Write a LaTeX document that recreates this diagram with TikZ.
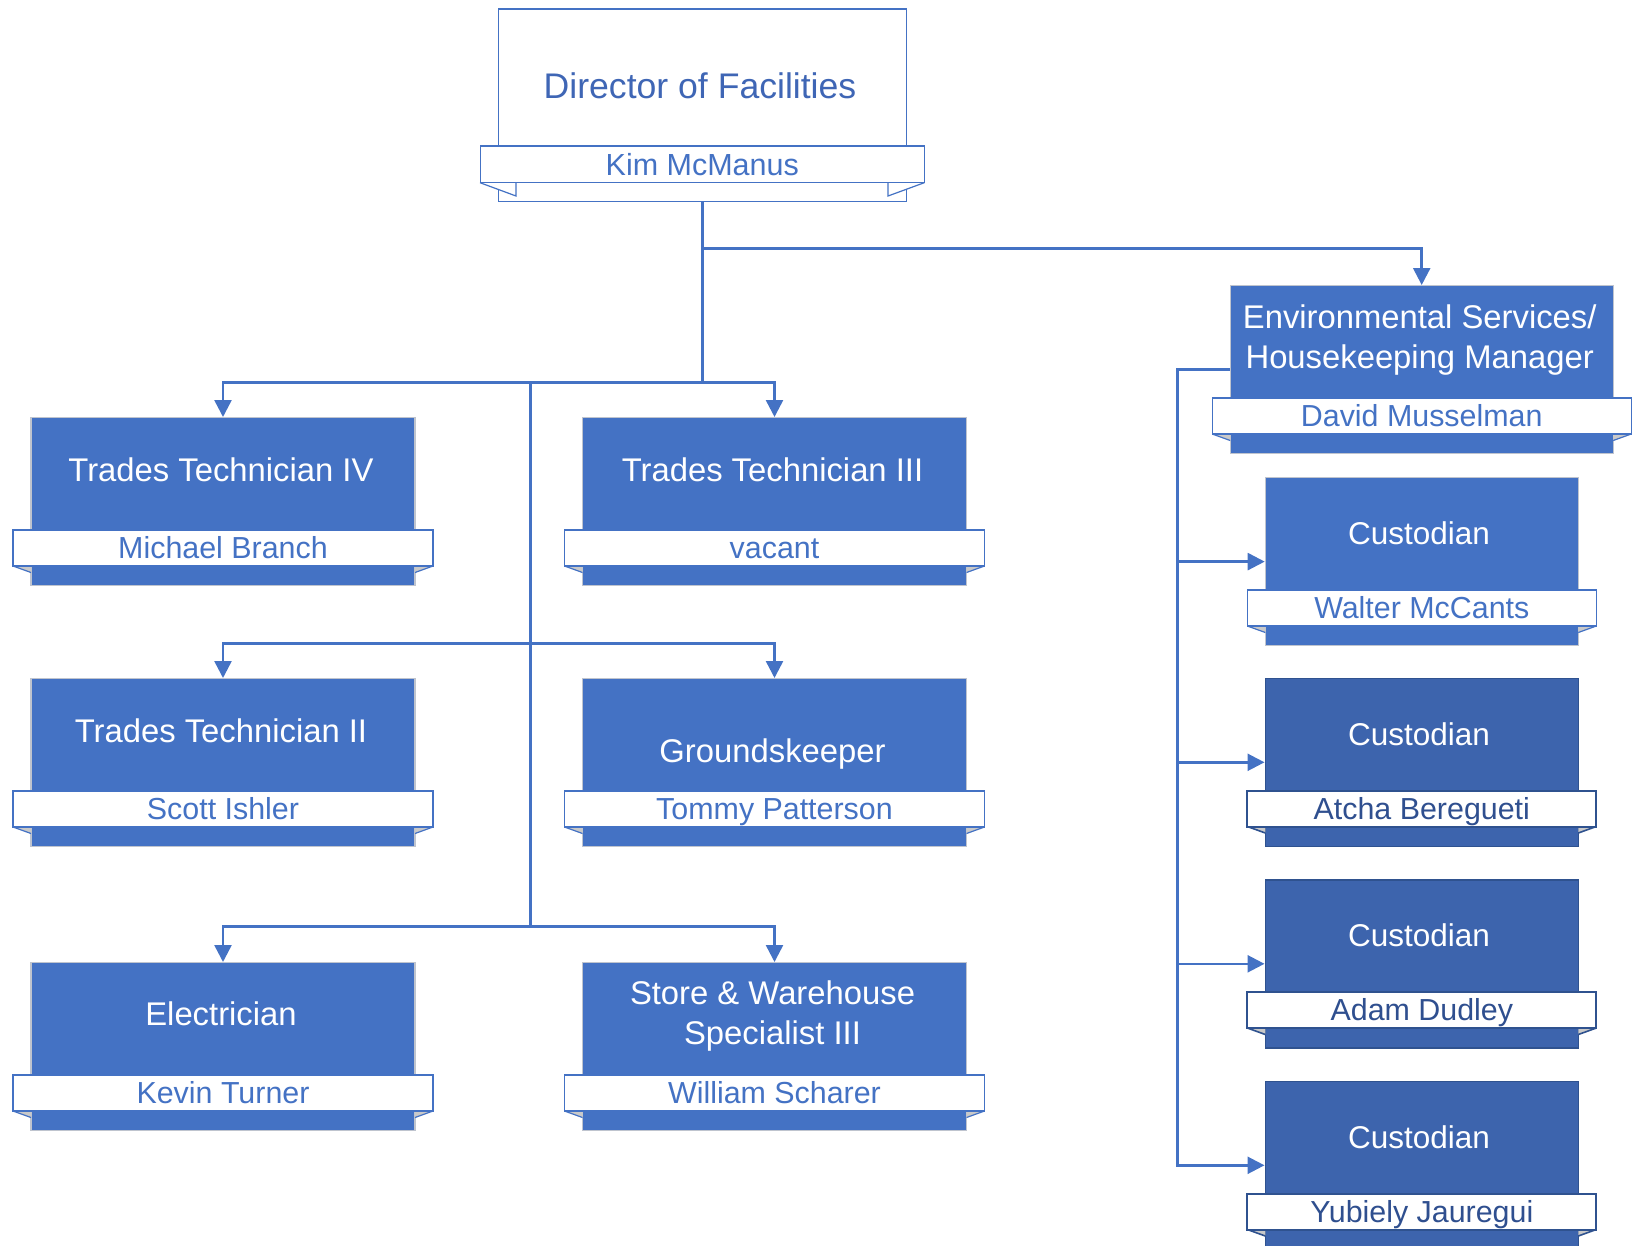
\documentclass[tikz,border=0pt]{standalone}
\usepackage{fontspec}
\setmainfont{Liberation Sans}
\usetikzlibrary{arrows.meta}
\definecolor{obl}{HTML}{4472C4}
\definecolor{dbl}{HTML}{3D64AD}
\definecolor{dln}{HTML}{2F528F}
\definecolor{dtx}{HTML}{2F4F8F}
\definecolor{dirtx}{HTML}{3F66B5}
\definecolor{tailg}{HTML}{C9C9C9}
\definecolor{lbd}{HTML}{BFC4CE}
\tikzset{
  conn/.style={draw=obl, line width=2.5pt},
  arr/.style={conn, -{Triangle[length=17pt,width=17pt]}},
  boxlt/.style={rectangle, fill=obl, draw=lbd, line width=1.2pt, inner sep=0pt},
  boxdk/.style={rectangle, fill=dbl, draw=dln, line width=1.6pt, inner sep=0pt},
  ribbase/.style={rectangle, fill=white, inner sep=0pt, text height=21.8pt, text depth=0pt,
    font=\fontsize{30.4}{33}\selectfont},
  riblt/.style={ribbase, draw=obl, line width=1.2pt, text=obl},
  ribdk/.style={ribbase, draw=dln, line width=2pt, text=dtx},
  tailfilllt/.style={fill=tailg},
  tailfilldk/.style={fill=tailg},
  taillinelt/.style={draw=obl, line width=1.2pt},
  taillinedk/.style={draw=dln, line width=1.6pt},
  ttl/.style={text=white, font=\fontsize{32.8}{40.6}\selectfont, align=center, inner sep=0pt},
  ttlone/.style={ttl, text height=23.5pt, text depth=0pt},
}
% #1 variant, #2 name, #3 centre x, #4 top y, #5 width, #6 person
\newcommand\orgcard[6]{%
  \node[box#1, minimum width=#5pt, minimum height=168pt, anchor=north] (#2) at (#3,#4) {};
  \fill[tailfill#1] (#3-#5/2-18,#4+149) -- (#3-#5/2,#4+155.5) -- (#3-#5/2,#4+149) -- cycle;
  \fill[tailfill#1] (#3+#5/2+18,#4+149) -- (#3+#5/2,#4+155.5) -- (#3+#5/2,#4+149) -- cycle;
  \draw[tailline#1] (#3-#5/2-18,#4+149) -- (#3-#5/2,#4+155.5);
  \draw[tailline#1] (#3+#5/2+18,#4+149) -- (#3+#5/2,#4+155.5);
  \node[rib#1, minimum width=#5pt+36pt, minimum height=36pt] (#2-n) at (#3,#4+131) {#6};
}
\begin{document}
\begin{tikzpicture}[x=1pt,y=-1pt]
\useasboundingbox (0,0) rectangle (1638,1245);
\clip (0,0) rectangle (1638,1245);

% Director
\node[rectangle, fill=white, draw=obl, line width=1.2pt, minimum width=407.7pt, minimum height=192.4pt, anchor=north] (dir) at (702.3,8.3) {};
\draw[draw=obl, line width=1.2pt, fill=white] (480,182.7) -- (516,196) -- (516,182.7);
\draw[draw=obl, line width=1.2pt, fill=white] (924.3,182.7) -- (888,196) -- (888,182.7);
\node[rectangle, fill=white, draw=obl, line width=1.2pt, minimum width=444.3pt, minimum height=36.7pt, inner sep=0pt,
  text=obl, text height=21.8pt, text depth=0pt, font=\fontsize{30.5}{32}\selectfont] (dir-n) at (702.3,164.3) {Kim McManus};
\node[text=dirtx, font=\fontsize{35.6}{40}\selectfont, text height=25.5pt, text depth=0pt, inner sep=0pt] (dir-t) at (700,86) {Director of Facilities};

% Cards
\orgcard{lt}{tt4}{223}{417}{384}{Michael Branch}
\orgcard{lt}{tt3}{774.5}{417}{384}{vacant}
\orgcard{lt}{tt2}{223}{678}{384}{Scott Ishler}
\orgcard{lt}{gk}{774.5}{678}{384}{Tommy Patterson}
\orgcard{lt}{el}{223}{962}{384}{Kevin Turner}
\orgcard{lt}{sw}{774.5}{962}{384}{William Scharer}
\orgcard{lt}{env}{1421.7}{285}{383}{David Musselman}
\orgcard{lt}{c1}{1421.8}{477}{313}{Walter McCants}
\orgcard{dk}{c2}{1421.8}{677.5}{313}{Atcha Beregueti}
\orgcard{dk}{c3}{1421.8}{879}{313}{Adam Dudley}
\orgcard{dk}{c4}{1421.8}{1080.5}{313}{Yubiely Jauregui}

\node[ttlone] (tt4-t) at (221,470) {Trades Technician IV};
\node[ttlone] (tt3-t) at (772.5,470) {Trades Technician III};
\node[ttlone] (tt2-t) at (221,731) {Trades Technician II};
\node[ttlone] (gk-t) at (772.5,751) {Groundskeeper};
\node[ttlone] (el-t) at (221,1014) {Electrician};
\node[ttl] (sw-t) at (772.5,1016) {Store \& Warehouse\\Specialist III};
\node[ttl] (env-t) at (1419.7,340) {Environmental Services/\\Housekeeping Manager};
\node[ttlone, font=\fontsize{31.5}{40}\selectfont] (c1-t) at (1419,533) {Custodian};
\node[ttlone, font=\fontsize{31.5}{40}\selectfont] (c2-t) at (1419,734) {Custodian};
\node[ttlone, font=\fontsize{31.5}{40}\selectfont] (c3-t) at (1419,935) {Custodian};
\node[ttlone, font=\fontsize{31.5}{40}\selectfont] (c4-t) at (1419,1136.5) {Custodian};

% Connectors
\coordinate (busE) at (0,248.3);
\coordinate (bus1) at (0,382.7);
\coordinate (bus2) at (0,643.7);
\coordinate (bus3) at (0,926.7);
\coordinate (trunk) at (530.7,0);
\coordinate (cbus) at (1177.7,0);

\draw[conn] (dir.south) -- (dir.south |- bus1);
\draw[arr] (dir.south |- busE) -| (env.north);
\draw[arr] (dir.south |- bus1) -| (tt4.north);
\draw[arr] (dir.south |- bus1) -| (tt3.north);
\draw[conn] (trunk |- bus1) -- (trunk |- bus3);
\draw[arr] (trunk |- bus2) -| (tt2.north);
\draw[arr] (trunk |- bus2) -| (gk.north);
\draw[arr] (trunk |- bus3) -| (el.north);
\draw[arr] (trunk |- bus3) -| (sw.north);

\draw[arr] (env.west) -| (cbus |- c4.west) -- (c4.west);
\draw[arr] (cbus |- c1.west) -- (c1.west);
\draw[arr] (cbus |- c2.west) -- (c2.west);
\draw[arr] (cbus |- c3.west) -- (c3.west);
\end{tikzpicture}
\end{document}
